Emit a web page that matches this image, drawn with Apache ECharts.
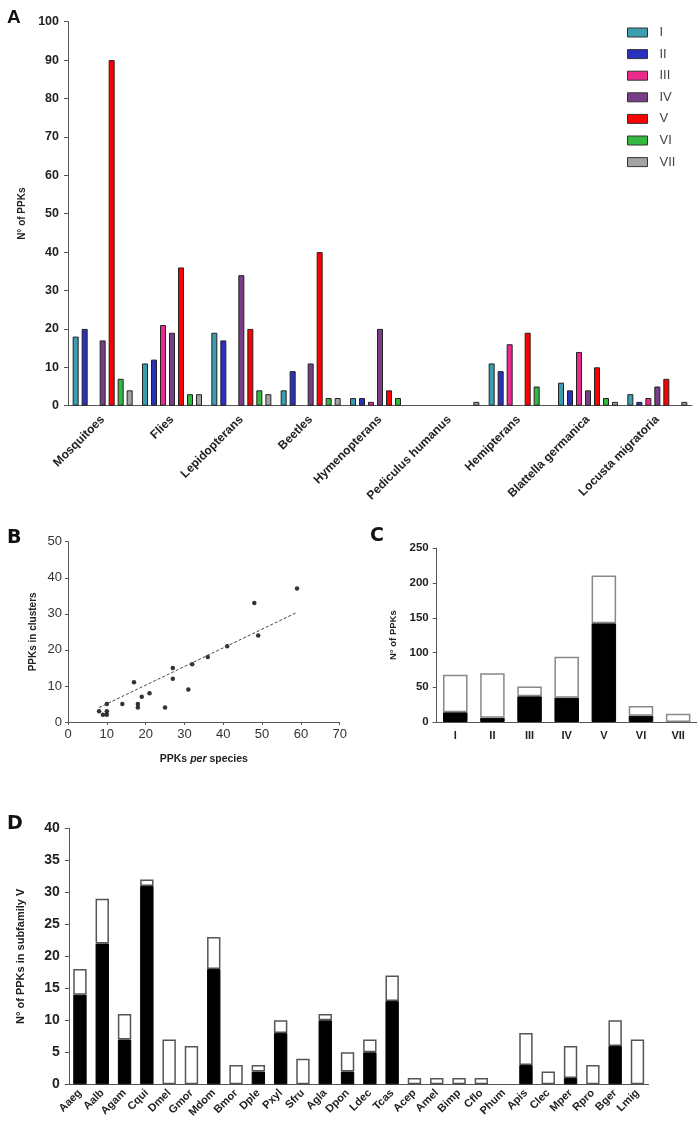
<!DOCTYPE html>
<html>
<head>
<meta charset="utf-8">
<script src="https://cdn.jsdelivr.net/npm/echarts/dist/echarts.min.js"></script>
<style>
html,body{margin:0;padding:0;background:#fff;}
#main{width:700px;height:1131px;}
</style>
</head>
<body>
<div id="main"></div>
<script>
// ---- Panel A data ----
const categoriesA = ['Mosquitoes','Flies','Lepidopterans','Beetles','Hymenopterans','Pediculus humanus','Hemipterans','Blattella germanica','Locusta migratoria'];
const subfamilies = ['I','II','III','IV','V','VI','VII'];
const valuesI   = [18,11,19,4,2,0,11,6,3];
const valuesII  = [20,12,17,9,2,0,9,4,1];
const valuesIII = [0,21,0,0,1,0,16,14,2];
const valuesIV  = [17,19,34,11,20,0,0,4,5];
const valuesV   = [90,36,20,40,4,0,19,10,7];
const valuesVI  = [7,3,4,2,2,0,5,2,0];
const valuesVII = [4,3,3,2,0,1,0,1,1];

// ---- Panel B data ----
const ppksPerSpecies = [8,9,10,10,10,14,17,18,18,19,21,25,27,27,31,32,36,41,48,49,59];
const ppksInClusters = [3,2,2,3,5,5,11,5,4,7,8,4,15,12,9,16,18,21,33,24,37];
const trendX = [8,59];
const trendY = [4,30.4];

// ---- Panel C data ----
const classesC = ['I','II','III','IV','V','VI','VII'];
const clusteredC = [14,6,37,35,142,9,0];
const unclusteredC = [54,64,14,59,69,14,12];

// ---- Panel D data ----
const speciesD = ['Aaeg','Aalb','Agam','Cqui','Dmel','Gmor','Mdom','Bmor','Dple','Pxyl','Sfru','Agla','Dpon','Ldec','Tcas','Acep','Amel','Bimp','Cflo','Phum','Apis','Clec','Mper','Rpro','Bger','Lmig'];
const clusteredD   = [14,22,7,31,0,0,18,0,2,8,0,10,2,5,13,0,0,0,0,0,3,0,1,0,6,0];
const unclusteredD = [4,7,4,1,7,6,5,3,1,2,4,1,3,2,4,1,1,1,1,0,5,2,5,3,4,7];

const colorsA = ['#3d9db0','#2b2fc0','#ec2a8e','#7a3d88','#ff0000','#33b940','#a3a3a3'];
const seriesValuesA = [valuesI,valuesII,valuesIII,valuesIV,valuesV,valuesVI,valuesVII];

const F = 'Liberation Sans, Arial, sans-serif';
const axisLine = {show:true, lineStyle:{color:'#555', width:1}};
// zero-height bars get no outline so they stay invisible
const noZeroBorder = arr => arr.map(v => v === 0 ? {value:0, itemStyle:{borderWidth:0, opacity:0}} : v);

const chart = echarts.init(document.getElementById('main'), null, {renderer:'canvas'});

const series = [];
subfamilies.forEach((s,i)=>{
  series.push({
    name:s, type:'bar', xAxisIndex:0, yAxisIndex:0,
    data: noZeroBorder(seriesValuesA[i]), barWidth:6, barGap:'50%',
    itemStyle:{color:colorsA[i], borderColor:'#222', borderWidth:1},
    animation:false
  });
});
series.push({
  type:'scatter', xAxisIndex:1, yAxisIndex:1,
  data: ppksPerSpecies.map((x,i)=>[x, ppksInClusters[i]]),
  symbolSize:4.5, itemStyle:{color:'#000'}, animation:false
});
series.push({
  type:'line', xAxisIndex:1, yAxisIndex:1,
  data: trendX.map((x,i)=>[x, trendY[i]]),
  symbol:'none', lineStyle:{type:[3,2], color:'#444', width:1}, animation:false
});
series.push({
  type:'bar', xAxisIndex:2, yAxisIndex:2, stack:'c', data:noZeroBorder(clusteredC),
  barCategoryGap:'34%', itemStyle:{color:'#000', borderColor:'#000', borderWidth:1}, animation:false
});
series.push({
  type:'bar', xAxisIndex:2, yAxisIndex:2, stack:'c', data:noZeroBorder(unclusteredC),
  barCategoryGap:'34%', itemStyle:{color:'#fff', borderColor:'#888', borderWidth:1.5}, animation:false
});
series.push({
  type:'bar', xAxisIndex:3, yAxisIndex:3, stack:'d', data:noZeroBorder(clusteredD),
  barCategoryGap:'40%', itemStyle:{color:'#000', borderColor:'#000', borderWidth:1}, animation:false
});
series.push({
  type:'bar', xAxisIndex:3, yAxisIndex:3, stack:'d', data:noZeroBorder(unclusteredD),
  barCategoryGap:'40%', itemStyle:{color:'#fff', borderColor:'#555', borderWidth:1.5}, animation:false
});

const option = {
  backgroundColor:'#fff',
  animation:false,
  title:[
    {text:'A', left:2, top:3, textStyle:{fontFamily:F, fontWeight:'bold', fontSize:19, color:'#111'}},
    {text:'B', left:2, top:524, textStyle:{fontFamily:'DejaVu Sans', fontWeight:'bold', fontSize:19, color:'#111'}},
    {text:'C', left:365, top:522, textStyle:{fontFamily:'DejaVu Sans', fontWeight:'bold', fontSize:19, color:'#111'}},
    {text:'D', left:2, top:810, textStyle:{fontFamily:'DejaVu Sans', fontWeight:'bold', fontSize:19, color:'#111'}}
  ],
  legend:{
    data:subfamilies.map(n=>({name:n, icon:'rect'})), orient:'vertical', left:622, top:20.5,
    itemWidth:20, itemHeight:9, itemGap:7.6,
    itemStyle:{borderColor:'#333', borderWidth:1},
    textStyle:{fontFamily:F, fontSize:13, color:'#444', lineHeight:14, padding:[0,0,0,7]}
  },
  grid:[
    {left:68, top:21.7, width:624, height:384},
    {left:68, top:541.7, width:271.7, height:180.3},
    {left:436.7, top:548.3, width:260, height:173.7},
    {left:68.8, top:828.3, width:579.8, height:256}
  ],
  xAxis:[
    {gridIndex:0, type:'category', data:categoriesA, axisLine:axisLine,
     axisTick:{alignWithLabel:true, length:4, lineStyle:{color:'#555'}},
     axisLabel:{rotate:45, margin:12, fontFamily:F, fontWeight:'bold', fontSize:12, color:'#222', interval:0}},
    {gridIndex:1, type:'value', min:0, max:70, interval:10, axisLine:axisLine,
     axisTick:{show:true, length:3, lineStyle:{color:'#555'}}, splitLine:{show:false},
     axisLabel:{fontFamily:F, fontSize:13, color:'#333', margin:6},
     name:'{b|PPKs }{i|per}{b| species}', nameLocation:'middle', nameGap:32,
     nameTextStyle:{rich:{b:{fontFamily:F, fontWeight:'bold', fontSize:10.5, color:'#222'},
                          i:{fontFamily:F, fontWeight:'bold', fontStyle:'italic', fontSize:10.5, color:'#222'}}}},
    {gridIndex:2, type:'category', data:classesC, axisLine:axisLine,
     axisTick:{alignWithLabel:true, length:4, lineStyle:{color:'#555'}},
     axisLabel:{fontFamily:F, fontWeight:'bold', fontSize:11, color:'#222', margin:8, interval:0}},
    {gridIndex:3, type:'category', data:speciesD, axisLine:axisLine,
     axisTick:{alignWithLabel:true, length:4, lineStyle:{color:'#555'}},
     axisLabel:{rotate:45, margin:7, fontFamily:F, fontWeight:'bold', fontSize:11, color:'#222', interval:0}}
  ],
  yAxis:[
    {gridIndex:0, type:'value', min:0, max:100, interval:10, axisLine:axisLine,
     axisTick:{show:true, length:4, lineStyle:{color:'#555'}}, splitLine:{show:false},
     axisLabel:{fontFamily:F, fontWeight:'bold', fontSize:12.5, color:'#222', margin:9},
     name:'N° of PPKs', nameLocation:'middle', nameGap:34,
     nameTextStyle:{fontFamily:F, fontWeight:'bold', fontSize:10, color:'#222'}},
    {gridIndex:1, type:'value', min:0, max:50, interval:10, axisLine:axisLine,
     axisTick:{show:true, length:3, lineStyle:{color:'#555'}}, splitLine:{show:false},
     axisLabel:{fontFamily:F, fontSize:13, color:'#333', margin:6},
     name:'PPKs in clusters', nameLocation:'middle', nameGap:30,
     nameTextStyle:{fontFamily:F, fontWeight:'bold', fontSize:10, color:'#222'}},
    {gridIndex:2, type:'value', min:0, max:250, interval:50, axisLine:axisLine,
     axisTick:{show:true, length:4, lineStyle:{color:'#555'}}, splitLine:{show:false},
     axisLabel:{fontFamily:F, fontWeight:'bold', fontSize:11.5, color:'#222', margin:8},
     name:'N° of PPKs', nameLocation:'middle', nameGap:38,
     nameTextStyle:{fontFamily:F, fontWeight:'bold', fontSize:9.5, color:'#222'}},
    {gridIndex:3, type:'value', min:0, max:40, interval:5, axisLine:axisLine,
     axisTick:{show:true, length:4, lineStyle:{color:'#555'}}, splitLine:{show:false},
     axisLabel:{fontFamily:F, fontWeight:'bold', fontSize:14, color:'#222', margin:9},
     name:'N° of PPKs in subfamily V', nameLocation:'middle', nameGap:42,
     nameTextStyle:{fontFamily:F, fontWeight:'bold', fontSize:11, color:'#222'}}
  ],
  series:series
};
chart.setOption(option);
</script>
</body>
</html>
